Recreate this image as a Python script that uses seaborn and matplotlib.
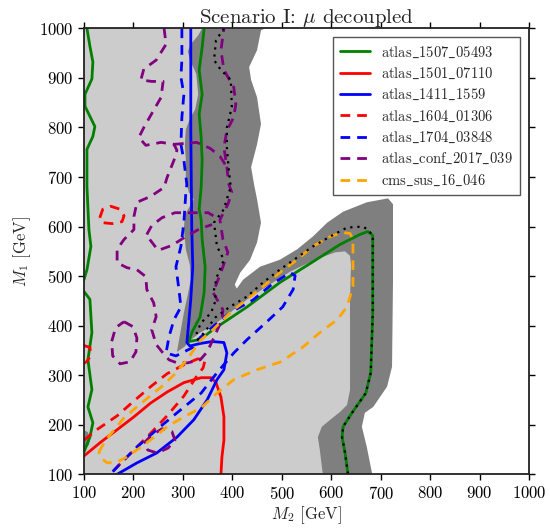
import matplotlib
matplotlib.use('Agg')
import matplotlib.pyplot as plt
import seaborn as sns

# exclusion regions (M2, M1) in GeV
dark_m2 = [100, 466, 458, 450, 434, 438, 450, 458, 450, 438, 444, 450, 458, 450, 436, 416, 405, 409, 422, 456,
           496, 531, 563, 592, 624, 672, 715, 725, 725, 723, 713, 685, 668, 662, 672, 683, 100]
dark_m1 = [1000, 1000, 996, 956, 922, 896, 861, 807, 766, 720, 685, 655, 608, 568, 533, 507, 483, 475, 493, 519,
           533, 554, 580, 608, 630, 649, 657, 645, 493, 317, 277, 236, 224, 196, 155, 100, 100]

light_m2 = [100, 339, 331, 316, 310, 314, 327, 331, 325, 314, 306, 304, 306, 306, 312, 322, 314, 304, 302, 306,
            314, 316, 310, 302, 296, 288, 304, 314, 335, 361, 395, 430, 466, 517, 567, 608, 628, 638, 640, 638,
            638, 632, 618, 598, 581, 573, 577, 583, 100]
light_m1 = [1000, 1000, 986, 968, 954, 938, 908, 867, 837, 817, 796, 766, 736, 695, 669, 655, 641, 624, 594, 554,
            523, 493, 463, 426, 392, 347, 358, 370, 386, 400, 426, 453, 477, 509, 533, 548, 550, 541, 523, 453,
            270, 240, 226, 210, 196, 175, 149, 100, 100]

blob_m2 = [100, 108, 112, 110, 102, 100]
blob_m1 = [189, 185, 173, 159, 153, 189]

# atlas_1507_05493
green_a_m2 = [106, 112, 118, 116, 102, 102, 122, 118, 106, 106, 110, 114, 106, 100]
green_a_m1 = [1000, 964, 932, 898, 867, 843, 802, 782, 756, 681, 594, 560, 513, 493]
green_b_m2 = [100, 112, 116, 108, 116, 108, 118, 112, 100]
green_b_m1 = [469, 453, 386, 331, 271, 236, 204, 175, 145]
green_c_m2 = [343, 339, 333, 339, 333, 337, 339, 337, 333, 337, 339, 345, 343, 335, 318, 312, 335, 361, 430, 496,
              563, 618, 658, 674, 684, 684, 684, 684, 680, 670, 642, 624, 622, 628, 634]
green_c_m1 = [1000, 962, 916, 867, 827, 780, 734, 679, 635, 614, 574, 519, 467, 418, 386, 368, 372, 392, 438, 487,
              529, 564, 584, 590, 582, 564, 527, 426, 305, 264, 224, 196, 175, 143, 100]

# black dotted
dot_m2 = [383, 367, 363, 377, 397, 399, 389, 389, 393, 397, 393, 383, 363, 369, 383, 369, 363, 367, 357, 337,
          328, 330, 345, 365, 395, 430, 462, 496, 563, 598, 632, 664, 674, 684, 684, 684, 684, 680, 670, 642,
          624, 622, 628, 634]
dot_m1 = [1000, 976, 936, 916, 896, 841, 800, 760, 713, 679, 669, 635, 608, 560, 533, 499, 473, 453, 426, 406,
          386, 372, 388, 416, 438, 459, 487, 513, 560, 580, 598, 600, 594, 582, 564, 527, 426, 305, 264, 224,
          196, 175, 143, 100]

# atlas_1501_07110
red_m2 = [100, 134, 167, 201, 235, 268, 302, 337, 357, 367, 377, 383, 383, 379, 377]
red_m1 = [137, 165, 190, 216, 244, 266, 285, 295, 295, 285, 256, 216, 169, 135, 100]

# atlas_1411_1559
blue_m2 = [316, 316, 318, 320, 316, 310, 308, 314, 335, 359, 383, 389, 383, 369, 349, 322, 288, 247, 207, 167]
blue_m1 = [1000, 796, 594, 519, 453, 386, 366, 359, 364, 368, 366, 345, 311, 291, 250, 210, 175, 143, 123, 100]

# atlas_1604_01306
redd_m2 = [100, 126, 167, 201, 235, 268, 302, 330, 345, 341, 326, 302, 268, 235, 201, 167, 153]
redd_m1 = [169, 190, 218, 248, 277, 303, 321, 333, 331, 315, 295, 258, 218, 183, 149, 115, 100]
redd_b_m2 = [100, 112, 114, 106, 100]
redd_b_m1 = [360, 356, 340, 328, 324]
redd_c_m2 = [132, 138, 154, 173, 181, 177, 157, 136, 132]
redd_c_m1 = [618, 635, 641, 635, 622, 610, 606, 608, 618]

# atlas_1704_03848
blued_m2 = [298, 298, 296, 302, 298, 296, 302, 308, 306, 302, 296, 286, 292, 296, 282, 272, 266, 286, 322, 335,
            361, 395, 442, 482, 517, 527, 523, 502, 470, 430, 403, 369, 337, 288, 247, 207, 181, 153]
blued_m1 = [1000, 936, 902, 867, 821, 766, 734, 685, 669, 608, 560, 519, 473, 438, 412, 378, 345, 339, 357, 376,
            398, 426, 452, 485, 507, 501, 473, 438, 408, 372, 345, 305, 264, 224, 190, 155, 129, 100]

# atlas_conf_2017_039
pur_m2 = [262, 266, 246, 221, 215, 237, 260, 256, 241, 221, 211, 225, 256, 282, 288, 282, 268, 262, 235, 207,
          201, 201, 181, 167, 167, 187, 207, 225, 227, 241, 246, 237, 246, 258, 272, 288, 310, 335, 349, 361,
          379, 381, 369, 361, 369, 381, 391, 381, 375, 391, 399, 393, 389, 383, 389, 403, 407, 403, 383, 377, 383]
pur_m1 = [1000, 968, 936, 918, 896, 893, 893, 861, 835, 800, 780, 764, 770, 766, 754, 734, 699, 679, 661, 649,
          620, 594, 574, 554, 527, 517, 513, 499, 473, 446, 418, 392, 362, 347, 331, 325, 325, 331, 347, 372,
          412, 432, 453, 467, 487, 519, 548, 574, 614, 645, 669, 685, 720, 760, 794, 821, 847, 881, 916, 956, 1000]
pur_b_m2 = [282, 306, 328, 355, 375, 389]
pur_b_m1 = [766, 768, 770, 758, 742, 720]
pur_c_m2 = [227, 237, 258, 284, 318, 351, 375]
pur_c_m1 = [584, 602, 618, 628, 628, 628, 614]
pur_d_m2 = [233, 250, 278, 306, 335, 359]
pur_d_m1 = [574, 552, 562, 580, 596, 604]
pur_e_m2 = [181, 199, 207, 205, 193, 173, 158, 156, 164, 181]
pur_e_m1 = [408, 398, 375, 347, 327, 323, 339, 368, 396, 408]
pur_f_m2 = [221, 237, 258, 278, 284, 270, 248, 229, 221]
pur_f_m1 = [163, 179, 192, 186, 169, 153, 143, 149, 163]

# cms_sus_16_046
ora_m2 = [130, 144, 181, 207, 236, 262, 286, 308, 322, 335, 361, 395, 430, 462, 496, 531, 563, 598, 624, 638,
          644, 644, 644, 632, 612, 577, 543, 498, 450, 403, 369, 337, 302, 268, 242, 215, 187, 167, 147, 134, 130]
ora_m1 = [145, 169, 214, 236, 260, 281, 305, 331, 351, 370, 392, 426, 453, 479, 507, 533, 560, 580, 588, 586,
          574, 533, 479, 438, 412, 386, 357, 327, 311, 291, 264, 234, 216, 196, 175, 155, 135, 125, 123, 133, 145]

sns.set_style('ticks')
plt.rcParams['font.family'] = ['cmr10', 'DejaVu Serif']
plt.rcParams['mathtext.fontset'] = 'cm'
plt.rcParams['axes.formatter.use_mathtext'] = True
plt.rcParams['axes.unicode_minus'] = False

fig = plt.figure(figsize=(5.5, 5.28), dpi=100)
ax = fig.add_axes([0.1527, 0.1017, 0.8091, 0.8445])

ax.fill(dark_m2, dark_m1, color='#7f7f7f', lw=0, zorder=1)
ax.fill(light_m2, light_m1, color='#cccccc', lw=0, zorder=2)
ax.fill(blob_m2, blob_m1, color='#7f7f7f', lw=0, zorder=2)


def tex(name):
    return '$\\mathrm{' + name.replace('_', '\\_') + '}$'


def curve(x, y, color, ls='-', label=None, lw=2):
    sns.lineplot(x=x, y=y, sort=False, estimator=None, color=color, linestyle=ls, lw=lw,
                 label=label, ax=ax, zorder=3, legend=False)


dash = (0, (3.5, 2.5))
curve(green_a_m2, green_a_m1, 'green', label=tex('atlas_1507_05493'))
curve(green_b_m2, green_b_m1, 'green')
curve(green_c_m2, green_c_m1, 'green')
curve(red_m2, red_m1, 'red', label=tex('atlas_1501_07110'))
curve(blue_m2, blue_m1, 'blue', label=tex('atlas_1411_1559'))
curve(redd_m2, redd_m1, 'red', dash, label=tex('atlas_1604_01306'))
curve(redd_b_m2, redd_b_m1, 'red', dash)
curve(redd_c_m2, redd_c_m1, 'red', dash)
curve(blued_m2, blued_m1, 'blue', dash, label=tex('atlas_1704_03848'))
curve(pur_m2, pur_m1, 'purple', dash, label=tex('atlas_conf_2017_039'))
for px, py in [(pur_b_m2, pur_b_m1), (pur_c_m2, pur_c_m1), (pur_d_m2, pur_d_m1),
               (pur_e_m2, pur_e_m1), (pur_f_m2, pur_f_m1)]:
    curve(px, py, 'purple', dash)
curve(ora_m2, ora_m1, 'orange', dash, label=tex('cms_sus_16_046'))
curve(dot_m2, dot_m1, 'black', (0, (1, 2.2)), lw=1.6)

handles, labels = ax.get_legend_handles_labels()
leg = ax.legend(handles, labels, loc='upper right', fontsize=10.5, frameon=True, fancybox=False,
                edgecolor='#555555', framealpha=1, borderpad=0.5, labelspacing=0.42, handlelength=2.0,
                borderaxespad=0.6)
leg.get_frame().set_linewidth(1.0)

ax.set_xlim(100, 1000)
ax.set_ylim(100, 1000)
ax.set_xticks(range(100, 1001, 100))
ax.set_yticks(range(100, 1001, 100))
ax.tick_params(direction='out', length=4, width=1, top=True, right=True, labelsize=12, colors='black')
for s in ax.spines.values():
    s.set_linewidth(1.3)
    s.set_color('#222222')
    s.set_zorder(5)
ax.set_xlabel('$M_2$ [GeV]', fontsize=12, labelpad=2)
ax.set_ylabel('$M_1$ [GeV]', fontsize=12, labelpad=4)
ax.set_title('Scenario I: $\\mu$ decoupled', fontsize=15, pad=4)

fig.savefig('out.png', dpi=100)
